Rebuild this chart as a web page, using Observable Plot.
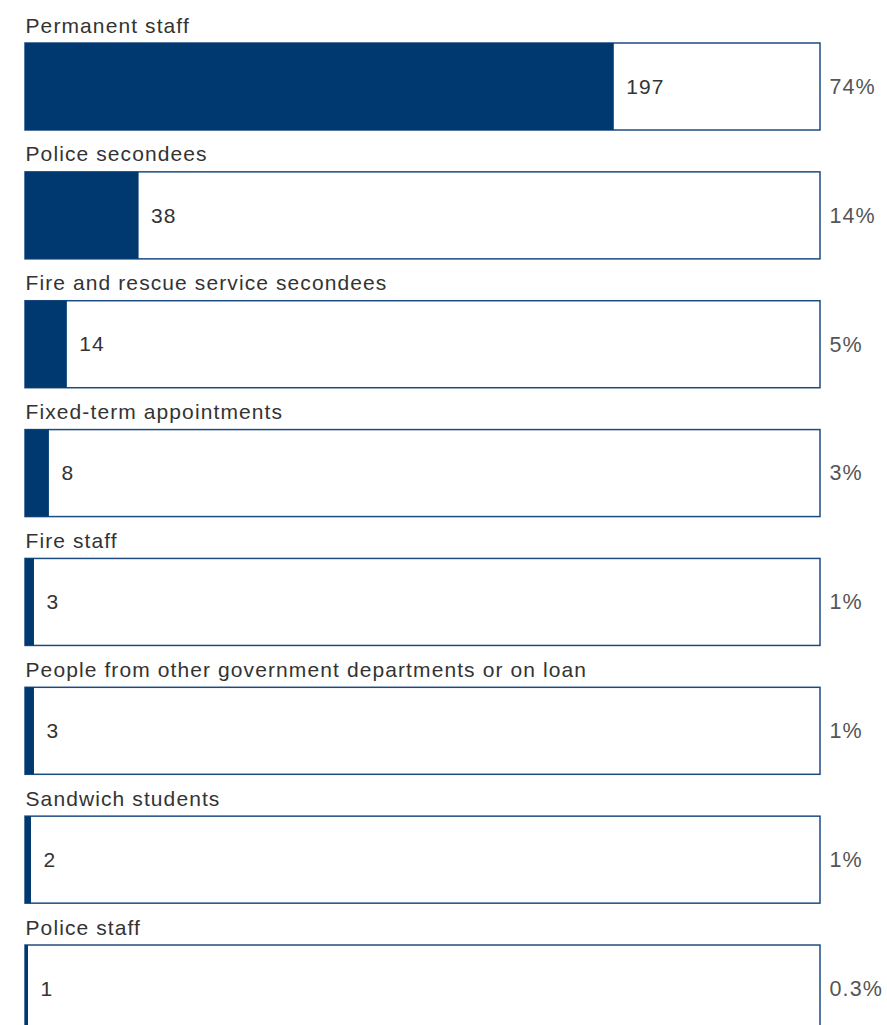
<!DOCTYPE html>
<html>
<head>
<meta charset="utf-8">
<script src="https://cdn.jsdelivr.net/npm/d3@7"></script>
<script src="https://cdn.jsdelivr.net/npm/@observablehq/plot@0.6"></script>
<style>
  html, body { margin: 0; padding: 0; background: #fff; overflow: hidden; }
  #chart svg { display: block; }
  #chart svg text { letter-spacing: 1.1px; }
</style>
</head>
<body>
<div id="chart"></div>
<script>
const categories = [
  "Permanent staff",
  "Police secondees",
  "Fire and rescue service secondees",
  "Fixed-term appointments",
  "Fire staff",
  "People from other government departments or on loan",
  "Sandwich students",
  "Police staff"
];
const counts = [197, 38, 14, 8, 3, 3, 2, 1];
const percentLabels = ["74%", "14%", "5%", "3%", "1%", "1%", "1%", "0.3%"];

const total = d3.sum(counts);
const data = categories.map((c, i) => ({category: c, value: counts[i], total, pct: percentLabels[i]}));

const W = 887, H = 1025;
const rowStep = 128.86, band = 87;
const firstTop = 43;
const yRange = [firstTop, firstTop + categories.length * rowStep - (rowStep - band)];

const font = "'Liberation Sans', Arial, Helvetica, sans-serif";
const navy = "#00396f";

const chart = Plot.plot({
  width: W,
  height: H,
  marginLeft: 25,
  marginRight: 67,
  marginTop: 0,
  marginBottom: 0,
  style: {fontFamily: font, background: "#fff", overflow: "hidden", letterSpacing: "1.1px"},
  x: {domain: [0, total], range: [25, 820], axis: null},
  y: {domain: categories, range: yRange, paddingInner: (rowStep - band) / rowStep, paddingOuter: 0, round: false, axis: null},
  marks: [
    Plot.barX(data, {x1: 0, x2: "total", y: "category", fill: "white", stroke: "#1d4b80", strokeWidth: 1.5}),
    Plot.barX(data, {x1: 0, x2: "value", y: "category", fill: navy}),
    Plot.text(data, {x: "value", y: "category", text: d => String(d.value), textAnchor: "start", dx: 12, fontSize: 21, fill: "#333"}),
    Plot.text(data, {x: "total", y: "category", text: "pct", textAnchor: "start", dx: 9, fontSize: 21.5, fill: "#555"}),
    Plot.text(data, {x: 0, y: "category", text: "category", textAnchor: "start", lineAnchor: "bottom", dy: -band / 2 - 11, fontSize: 21, fill: "#333"})
  ]
});
document.getElementById("chart").appendChild(chart);
</script>
</body>
</html>
